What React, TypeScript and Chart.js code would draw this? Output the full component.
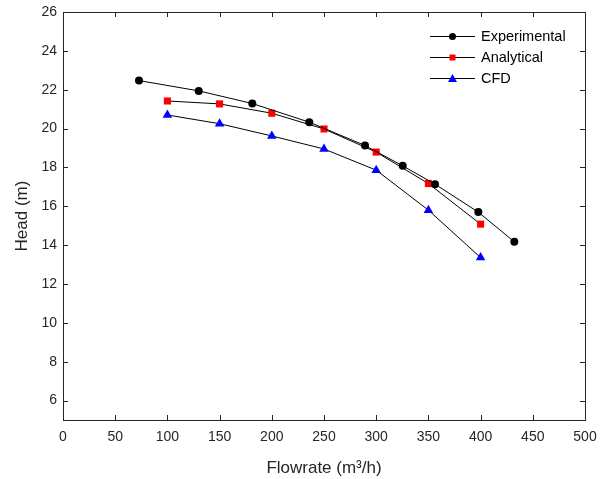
import React, { useEffect, useRef } from "react";
import { Chart, registerables } from "chart.js";

Chart.register(...registerables);

const expFlow = [72.8, 130, 181.3, 235.9, 289.3, 325.4, 356.3, 397.8, 432.3];
const expHead = [22.47, 21.94, 21.29, 20.33, 19.13, 18.08, 17.14, 15.7, 14.17];
const anaFlow = [100, 150, 200, 250, 300, 350, 400];
const anaHead = [21.42, 21.27, 20.79, 19.98, 18.79, 17.17, 15.08];
const cfdFlow = [100, 150, 200, 250, 300, 350, 400];
const cfdHead = [20.7, 20.25, 19.62, 18.95, 17.86, 15.8, 13.36];
const xTicks = [0, 50, 100, 150, 200, 250, 300, 350, 400, 450, 500];
const yTicks = [6, 8, 10, 12, 14, 16, 18, 20, 22, 24, 26];
const seriesNames = ["Experimental", "Analytical", "CFD"];

const FONT = "'Liberation Sans', Arial, Helvetica, sans-serif";
const AXIS = "#262626";

const boxTicks = {
  id: "boxTicks",
  afterDraw(chart: any) {
    const { ctx, chartArea: a, scales } = chart;
    ctx.save();
    ctx.strokeStyle = AXIS;
    ctx.lineWidth = 1;
    ctx.beginPath();
    ctx.rect(Math.round(a.left) + 0.5, Math.round(a.top) + 0.5, Math.round(a.right - a.left), Math.round(a.bottom - a.top));
    ctx.stroke();
    const L = 5;
    ctx.beginPath();
    for (const v of xTicks) {
      const x = Math.round(scales.x.getPixelForValue(v)) + 0.5;
      ctx.moveTo(x, a.bottom);
      ctx.lineTo(x, a.bottom - L);
      ctx.moveTo(x, a.top);
      ctx.lineTo(x, a.top + L);
    }
    for (const v of yTicks) {
      const y = Math.round(scales.y.getPixelForValue(v)) + 0.5;
      ctx.moveTo(a.left, y);
      ctx.lineTo(a.left + L, y);
      ctx.moveTo(a.right, y);
      ctx.lineTo(a.right - L, y);
    }
    ctx.stroke();

    // legend
    const lx0 = a.left + 367;
    const lx1 = a.left + 412;
    const ys = [36, 57, 78];
    chart.data.datasets.forEach((ds: any, i: number) => {
      const y = ys[i];
      ctx.strokeStyle = "#000";
      ctx.lineWidth = 1;
      ctx.beginPath();
      ctx.moveTo(lx0, y + 0.5);
      ctx.lineTo(lx1, y + 0.5);
      ctx.stroke();
      const cx = (lx0 + lx1) / 2;
      ctx.fillStyle = ds.pointBackgroundColor;
      ctx.beginPath();
      if (ds.pointStyle === "circle") {
        ctx.arc(cx, y + 0.5, 3.5, 0, Math.PI * 2);
      } else if (ds.pointStyle === "rect") {
        ctx.rect(cx - 3, y - 2.5, 6, 6);
      } else {
        ctx.moveTo(cx, y - 4);
        ctx.lineTo(cx + 4.5, y + 4);
        ctx.lineTo(cx - 4.5, y + 4);
        ctx.closePath();
      }
      ctx.fill();
      ctx.fillStyle = "#000";
      ctx.font = `14.5px ${FONT}`;
      ctx.textBaseline = "middle";
      ctx.textAlign = "left";
      ctx.fillText(seriesNames[i], lx1 + 6, y + 1);
    });
    ctx.restore();
  },
};

export default function App() {
  const ref = useRef<HTMLCanvasElement>(null);
  useEffect(() => {
    if (!ref.current) return;
    const mk = (xs: number[], ys: number[]) => xs.map((x, i) => ({ x, y: ys[i] }));
    const chart = new Chart(ref.current, {
      type: "scatter",
      data: {
        datasets: [
          {
            label: seriesNames[0],
            data: mk(expFlow, expHead),
            showLine: true,
            borderColor: "#000",
            borderWidth: 1,
            pointStyle: "circle",
            pointRadius: 4,
            pointBackgroundColor: "#000",
            pointBorderColor: "#000",
            pointBorderWidth: 0,
          },
          {
            label: seriesNames[1],
            data: mk(anaFlow, anaHead),
            showLine: true,
            borderColor: "#000",
            borderWidth: 1,
            pointStyle: "rect",
            pointRadius: 5,
            pointBackgroundColor: "#ff0000",
            pointBorderColor: "#ff0000",
            pointBorderWidth: 0,
          },
          {
            label: seriesNames[2],
            data: mk(cfdFlow, cfdHead),
            showLine: true,
            borderColor: "#000",
            borderWidth: 1,
            pointStyle: "triangle",
            pointRadius: 5.5,
            pointBackgroundColor: "#0000ff",
            pointBorderColor: "#0000ff",
            pointBorderWidth: 0,
          },
        ] as any,
      },
      options: {
        animation: false,
        responsive: false,
        maintainAspectRatio: false,
        layout: { padding: { left: 0, right: 19, top: 12, bottom: 0 } },
        plugins: { legend: { display: false }, tooltip: { enabled: false } },
        scales: {
          x: {
            type: "linear",
            min: 0,
            max: 500,
            afterBuildTicks: (s: any) => {
              s.ticks = xTicks.map((v) => ({ value: v }));
            },
            afterFit: (s: any) => {
              s.height = 59;
              s.paddingLeft = 0;
              s.paddingRight = 0;
            },
            grid: { drawOnChartArea: false, drawTicks: false },
            border: { color: AXIS },
            ticks: { color: AXIS, font: { family: FONT, size: 14 }, padding: 9, maxRotation: 0 },
            title: {
              display: true,
              text: "Flowrate (m³/h)",
              color: AXIS,
              font: { family: FONT, size: 17 },
              padding: { top: 6, bottom: 0 },
            },
          },
          y: {
            type: "linear",
            min: 5,
            max: 26,
            afterBuildTicks: (s: any) => {
              s.ticks = yTicks.map((v) => ({ value: v }));
            },
            afterFit: (s: any) => {
              s.width = 63;
              s.paddingTop = 0;
              s.paddingBottom = 0;
            },
            grid: { drawOnChartArea: false, drawTicks: false },
            border: { color: AXIS },
            ticks: { color: AXIS, font: { family: FONT, size: 14 }, padding: 6 },
            title: {
              display: true,
              text: "Head (m)",
              color: AXIS,
              font: { family: FONT, size: 17 },
              padding: { top: 12, bottom: 0 },
            },
          },
        },
      },
      plugins: [boxTicks],
    });
    return () => chart.destroy();
  }, []);
  return (
    <div style={{ position: "fixed", left: 0, top: 0, width: 604, height: 479, background: "#fff" }}>
      <canvas ref={ref} width={604} height={479} style={{ width: 604, height: 479 }} />
    </div>
  );
}
